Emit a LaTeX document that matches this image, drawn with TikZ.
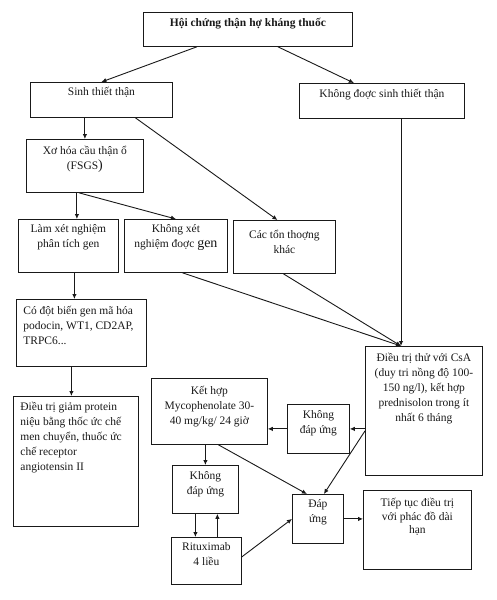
\documentclass[tikz,border=0pt]{standalone}
\usepackage{fontspec}
\setmainfont{Liberation Serif}
\usetikzlibrary{arrows.meta,positioning}
\definecolor{boxInk}{RGB}{25,25,25}
\newcommand{\boxText}[4]{\parbox[c][#2pt][t]{#1pt}{\vspace*{#3pt}\centering\strut #4}}
\newcommand{\boxLeft}[4]{\parbox[c][#2pt][t]{#1pt}{\vspace*{#3pt}\raggedright\leftskip=7pt\strut #4}}
\tikzset{
  box/.style={draw=boxInk, line width=0.8pt, inner sep=0pt, anchor=north west, text=boxInk,
    font=\fontsize{11.5}{15}\selectfont},
  flow/.style={-{Latex[length=5pt,width=4.5pt]}, line width=0.9pt, draw=boxInk},
  plain/.style={line width=0.9pt, draw=boxInk}
}
\begin{document}
\begin{tikzpicture}[x=1pt, y=-1pt]
  \useasboundingbox (0,0) rectangle (497,600);
  % first rows
  \node[box] (hc) at (143,12) {\boxText{209}{34}{4}{\textbf{Hội chứng thận hợ kháng thuốc}}};
  \node[box] (sinh) at (30,82) {\boxText{142}{35}{3}{Sinh thiết thận}};
  \node[box] (khong) at (299,83) {\boxText{165}{35}{4}{Không đoợc sinh thiết thận}};
  \node[box] (xo) at (26,139) {\boxText{117}{53}{5}{Xơ hóa cầu thận ổ\\(FSGS{\fontsize{14}{15}\selectfont )}}};
  \node[box] (lam) at (18,219) {\boxText{100}{53}{3}{Làm xét nghiệm\\phân tích gen}};
  \node[box] (kxn) at (124,219) {\boxText{103}{53}{3}{Không xét\\nghiệm đoợc {\fontsize{14}{15}\selectfont gen}}};
  \node[box] (ton) at (233,220) {\boxText{102}{53}{8}{Các tổn thoợng\\khác}};
  % left column
  \node[box] (dot) at (16,299) {\boxLeft{130}{67}{5}{Có đột biến gen mã hóa\\podocin, WT1, CD2AP,\\TRPC6...}};
  \node[box] (giam) at (13,396) {\boxLeft{125}{130}{4}{Điều trị giảm protein\\niệu bằng thốc ức chế\\men chuyển, thuốc ức\\chế receptor\\angiotensin II}};
  % treatment part
  \node[box] (csa) at (365,346) {\boxText{117}{129}{5}{Điều trị thử với CsA\\(duy tri nồng độ 100-\\150 ng/l), kết hợp\\prednisolon trong ít\\nhất 6 tháng}};
  \node[box] (mmf) at (151,378) {\boxText{116}{66}{6}{Kết hợp\\Mycophenolate 30-\\40 mg/kg/ 24 giờ}};
  \node[box] (kdu) at (287,404) {\boxText{62}{49}{4}{Không\\đáp ứng}};
  \node[box] (kdu2) at (172,465) {\boxText{66}{48}{4}{Không\\đáp ứng}};
  \node[box] (dapung) at (292,494) {\boxText{51}{49}{3}{Đáp\\ứng}};
  \node[box] (tiep) at (363,490) {\boxText{108}{79}{6}{\fontsize{11.5}{13.5}\selectfont Tiếp tục điều trị\\với phác đồ dài\\hạn}};
  \node[box] (ritux) at (171,537) {\boxText{70}{47}{3}{Rituximab\\4 liều}};
  \coordinate (csain) at (401,346);
  % connectors
  \draw[flow] ([xshift=-51]hc.south) -- (sinh.north);
  \draw[flow] ([xshift=30]hc.south) -- ([xshift=-28]khong.north);
  \draw[flow] (khong.south -| csain) -- (csain);
  \draw[flow] (sinh.south -| xo.north) -- (xo.north);
  \draw[flow] ([xshift=34]sinh.south) -- ([xshift=-7]ton.north);
  \draw[flow] ([xshift=-8]xo.south) coordinate (xs) -- (xs |- lam.north);
  \draw[flow] ([xshift=-6]xo.south) -- (kxn.north);
  \draw[flow] ([xshift=6.5]kxn.south) -- (csain);
  \draw[flow] ([xshift=-1]ton.south) -- (csain);
  \draw[flow] ([xshift=6]lam.south) coordinate (ls) -- (ls |- dot.north);
  \draw[flow] ([xshift=-10]dot.south) coordinate (ds) -- (ds |- giam.north);
  \draw[flow] (kdu.east -| csa.west) -- (kdu.east);
  \draw[flow] (kdu.west) -- (kdu.west -| mmf.east);
  \draw[flow] ([yshift=-20]csa.west) -- ([xshift=6]dapung.north);
  \draw[flow] (kdu2.north |- mmf.south) -- (kdu2.north);
  \draw[flow] ([xshift=9]mmf.south) -- ([xshift=-11]dapung.north);
  \draw[flow] ([xshift=-10]kdu2.south) coordinate (ks) -- (ks |- ritux.north);
  \draw[flow] ([xshift=12]kdu2.south |- ritux.north) -- ([xshift=12]kdu2.south);
  \draw[flow] ([yshift=4]ritux.east) -- (dapung.west);
  \draw[flow] (dapung.east) -- (dapung.east -| tiep.west);
\end{tikzpicture}
\end{document}
